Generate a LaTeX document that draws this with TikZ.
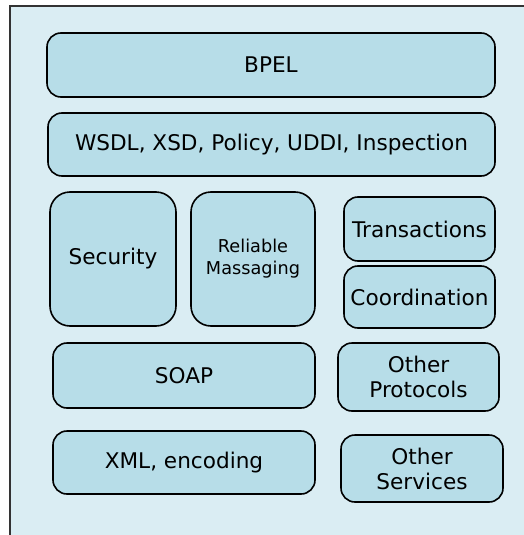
\documentclass[tikz,border=0pt]{standalone}
\usepackage{fontspec}
\setmainfont{DejaVu Sans}
\definecolor{backblue}{HTML}{DAEDF3}
\definecolor{boxblue}{HTML}{B7DDE8}
\begin{document}
\begin{tikzpicture}[x=1pt,y=-1pt,
    layer/.style={draw,rectangle,rounded corners=14pt,fill=boxblue,line width=1.6pt,
      align=center,inner sep=0pt,font=\fontsize{21.6}{25}\selectfont},
    tall/.style={layer,rounded corners=20pt}]
  \useasboundingbox (0,0) rectangle (524,535);
  \begin{scope}
    \clip (0,0) rectangle (524,535);
    \draw[fill=backblue,draw=black!80,line width=1.6pt] (10,6) rectangle (540,550);
  \end{scope}
  \node[layer,minimum width=448pt,minimum height=64pt] (bpel) at (271,65) {BPEL};
  \node[layer,minimum width=447pt,minimum height=63pt] (wsdl) at (271.5,144.5) {WSDL, XSD, Policy, UDDI, Inspection};
  \node[tall,minimum width=126pt,minimum height=134pt] (security) at (113,259) {Security};
  \node[tall,minimum width=124pt,minimum height=134pt,font=\fontsize{17.7}{22}\selectfont] (reliable) at (253,259) {Reliable\\Massaging};
  \node[layer,minimum width=151pt,minimum height=64pt] (transactions) at (419.5,229) {Transactions};
  \node[layer,minimum width=151pt,minimum height=62pt] (coordination) at (419.5,297) {Coordination};
  \node[layer,minimum width=262pt,minimum height=65pt] (soap) at (184,375.5) {SOAP};
  \node[layer,minimum width=161pt,minimum height=68pt] (protocols) at (418.5,377) {Other\\Protocols};
  \node[layer,minimum width=262pt,minimum height=63pt] (xml) at (184,462.5) {XML, encoding};
  \node[layer,minimum width=162pt,minimum height=67pt] (services) at (422,468.5) {Other\\Services};
\end{tikzpicture}
\end{document}
